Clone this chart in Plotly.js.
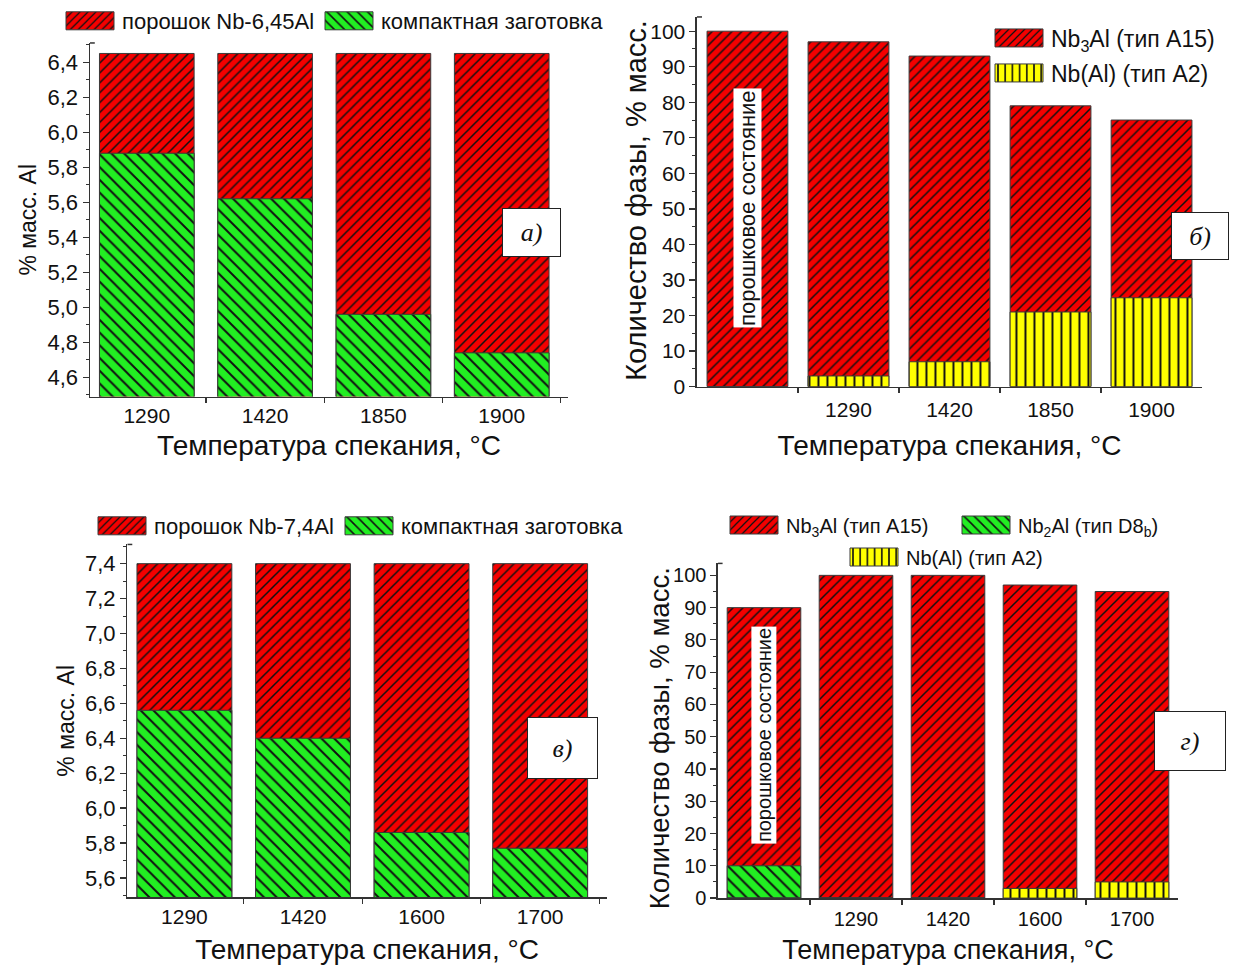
<!DOCTYPE html>
<html>
<head>
<meta charset="utf-8">
<script src="https://cdn.plot.ly/plotly-3.0.1.min.js"></script>
<style>body{margin:0;background:#fff}</style>
</head>
<body>
<div id="chart" style="width:1245px;height:968px"></div>
<script>
// а) Nb-6,45Al: Al content of powder vs compact, % масс.
const tempsA = ['1290', '1420', '1850', '1900'];
const powderA = [6.45, 6.45, 6.45, 6.45];
const compactA = [5.88, 5.62, 4.96, 4.74];

// б) phase content, Nb-6,45Al (first bar: powder state)
const catsB = ['порошковое состояние', '1290', '1420', '1850', '1900'];
const nb3alB = [100, 97, 93, 79, 75];
const nbalB = [0, 3, 7, 21, 25];

// в) Nb-7,4Al: Al content of powder vs compact, % масс.
const tempsC = ['1290', '1420', '1600', '1700'];
const powderC = [7.4, 7.4, 7.4, 7.4];
const compactC = [6.56, 6.40, 5.86, 5.77];

// г) phase content, Nb-7,4Al (first bar: powder state)
const catsD = ['порошковое состояние', '1290', '1420', '1600', '1700'];
const nb3alD = [90, 100, 100, 97, 95];
const nb2alD = [10, 0, 0, 0, 0];
const nbalD = [0, 0, 0, 3, 5];

const FONT = 'Liberation Sans, Arial, sans-serif';
const INK = '#111';
const RED = '#f40000', GREEN = '#22ee22', YELLOW = '#ffff00';
const outline = {color: '#3a3a3a', width: 1};
const PHASE_TITLE = 'Количество фазы, % масс.';

function hatch(bg, shape, size) {
  return {color: bg, line: outline,
    pattern: {shape: shape, bgcolor: bg, fgcolor: INK, size: size, solidity: 0.22, fillmode: 'replace'}};
}
const redM = hatch(RED, '/', 7);
const greenM = hatch(GREEN, '\\', 9);
const yellowM = hatch(YELLOW, '|', 9);

const traces = [
  {type: 'bar', x: tempsA, y: powderA, name: 'порошок Nb-6,45Al', marker: redM, xaxis: 'x', yaxis: 'y', legend: 'legend'},
  {type: 'bar', x: tempsA, y: compactA, name: 'компактная заготовка', marker: greenM, xaxis: 'x', yaxis: 'y', legend: 'legend2'},

  {type: 'bar', x: catsB, y: nb3alB, name: 'Nb<sub>3</sub>Al (тип A15)', marker: redM, xaxis: 'x2', yaxis: 'y2', legend: 'legend3'},
  {type: 'bar', x: catsB, y: nbalB, name: 'Nb(Al) (тип A2)', marker: yellowM, xaxis: 'x2', yaxis: 'y2', legend: 'legend4'},

  {type: 'bar', x: tempsC, y: powderC, name: 'порошок Nb-7,4Al', marker: redM, xaxis: 'x3', yaxis: 'y3', legend: 'legend5'},
  {type: 'bar', x: tempsC, y: compactC, name: 'компактная заготовка', marker: greenM, xaxis: 'x3', yaxis: 'y3', legend: 'legend6'},

  {type: 'bar', x: catsD, y: nb3alD, name: 'Nb<sub>3</sub>Al (тип A15)', marker: redM, xaxis: 'x4', yaxis: 'y4', legend: 'legend7'},
  {type: 'bar', x: catsD, y: nb2alD, name: 'Nb<sub>2</sub>Al (тип D8<sub>b</sub>)', marker: greenM, xaxis: 'x4', yaxis: 'y4', legend: 'legend8'},
  {type: 'bar', x: catsD, y: nbalD, name: 'Nb(Al) (тип A2)', marker: yellowM, xaxis: 'x4', yaxis: 'y4', legend: 'legend9'}
];
traces.forEach(t => { t.hoverinfo = 'skip'; });

const axisLine = {showline: true, linecolor: '#333', linewidth: 1.5, showgrid: false, zeroline: false,
  ticks: 'outside', tickcolor: '#333', tickwidth: 1.2, mirror: false};

function xAxis(domain, anchor, range, labels, fs, tfs, labelGap, standoff) {
  return Object.assign({}, axisLine, {
    type: 'category', domain: domain, anchor: anchor, range: range,
    tickson: 'boundaries', ticklen: 5, ticklabelstandoff: labelGap,
    tickmode: 'array', tickvals: labels, ticktext: labels,
    tickfont: {family: FONT, size: fs, color: INK},
    title: {text: 'Температура спекания, °C', font: {family: FONT, size: tfs, color: INK}, standoff: standoff}
  });
}
function yAxis(domain, anchor, range, dtick, minor, fmt, title, fs, tfs, standoff) {
  const ax = Object.assign({}, axisLine, {
    domain: domain, anchor: anchor, range: range, dtick: dtick, tick0: 0, ticklen: 6,
    tickformat: fmt,
    minor: {dtick: minor, ticks: 'outside', ticklen: 3, tickcolor: '#333', tickwidth: 1},
    tickfont: {family: FONT, size: fs, color: INK}
  });
  if (title) ax.title = {text: title, font: {family: FONT, size: tfs, color: INK}, standoff: standoff};
  return ax;
}

// short stroke closing the top end of each y axis
function topCap(xr, yr, len) {
  return {type: 'line', xref: xr + ' domain', yref: yr + ' domain', x0: 0, x1: len, y0: 1, y1: 1,
    line: {color: '#333', width: 1.5}};
}

function letterBox(text, x, y, w, h, fs) {
  return {text: '<i>' + text + '</i>', xref: 'paper', yref: 'paper', x: x, y: y,
    xanchor: 'center', yanchor: 'middle',
    showarrow: false, width: w, height: h, bgcolor: '#fff', bordercolor: '#222', borderwidth: 1,
    font: {family: 'Liberation Serif, Times New Roman, serif', size: fs, color: INK}};
}
function stateLabel(xr, yr, cat, yv, fs) {
  return {text: cat, xref: xr, yref: yr, x: cat, y: yv, showarrow: false, textangle: -90,
    xanchor: 'center', yanchor: 'middle',
    bgcolor: '#fff', borderpad: 1, font: {family: FONT, size: fs, color: INK}};
}
// vertical title of the phase-content panels, centred at pixel (px, py)
function sideTitle(text, px, py, fs) {
  return {text: text, xref: 'paper', yref: 'paper', x: px / 1245, y: 1 - py / 968,
    xanchor: 'center', yanchor: 'middle', showarrow: false, textangle: -90,
    font: {family: FONT, size: fs, color: INK}};
}

// one legend per entry; px = left edge of the entry text, py = its centre line
function legendAt(px, py, fs) {
  return {bgcolor: 'rgba(0,0,0,0)', xanchor: 'left', yanchor: 'middle', orientation: 'v',
    itemwidth: 60, x: (px - 71) / 1245, y: 1 - py / 968,
    font: {family: FONT, size: fs, color: INK}};
}

const layout = {
  width: 1245, height: 968,
  margin: {l: 0, r: 0, t: 0, b: 0},
  paper_bgcolor: '#fff', plot_bgcolor: '#fff',
  separators: ', ',
  barmode: 'overlay', bargap: 0.2,
  font: {family: FONT, color: INK},
  showlegend: true,

  xaxis: xAxis([0.0723, 0.4562], 'y', [-0.48, 3.56], tempsA, 21, 28, 0, 9),
  yaxis: yAxis([0.5909, 0.9566], 'x', [4.49, 6.51], 0.2, 0.1, '.1f', '% масс. Al', 22, 23, 4),
  xaxis2: xAxis([0.5598, 0.9655], 'y2', [-0.5, 4.5], catsB.slice(1), 21, 28, 4, 15),
  yaxis2: yAxis([0.6012, 0.9835], 'x2', [0, 104], 10, 5, 'd', null, 21),
  xaxis3: xAxis([0.1024, 0.4872], 'y3', [-0.48, 3.56], tempsC, 21, 28, 0, 12),
  yaxis3: yAxis([0.0733, 0.438], 'x3', [5.49, 7.51], 0.2, 0.1, '.1f', '% масс. Al', 22, 23, 4),
  xaxis4: xAxis([0.5767, 0.9462], 'y4', [-0.5, 4.5], catsD.slice(1), 20, 27, 2, 11),
  yaxis4: yAxis([0.0723, 0.4184], 'x4', [0, 103.7], 10, 5, 'd', null, 20),

  legend: legendAt(123, 20, 22),
  legend2: legendAt(382, 20, 22),
  legend3: legendAt(1052, 38, 23),
  legend4: legendAt(1052, 73, 23),
  legend5: legendAt(155, 526, 22),
  legend6: legendAt(402, 526, 22),
  legend7: legendAt(787, 525, 20),
  legend8: legendAt(1019, 525, 20),
  legend9: legendAt(907, 557, 20),

  shapes: [topCap('x', 'y', 0.01), topCap('x2', 'y2', 0.01), topCap('x3', 'y3', 0.01), topCap('x4', 'y4', 0.01)],
  annotations: [
    letterBox('а)', 531.5 / 1245, 1 - 231.5 / 968, 55, 45, 26),
    letterBox('б)', 1200 / 1245, 1 - 235 / 968, 54, 44, 26),
    letterBox('в)', 562.5 / 1245, 1 - 748 / 968, 67, 58, 26),
    letterBox('г)', 1190 / 1245, 1 - 741 / 968, 68, 56, 26),
    stateLabel('x2', 'y2', catsB[0], 50.4, 22),
    stateLabel('x4', 'y4', catsD[0], 50.5, 20),
    sideTitle(PHASE_TITLE, 636, 200, 29),
    sideTitle(PHASE_TITLE, 659, 738, 27.5)
  ]
};

// widen legend swatches into 48x18 hatched blocks ending 8px before the entry text
function widenSwatches(gd) {
  gd.querySelectorAll('g.traces').forEach(item => {
    const text = item.querySelector('text');
    if (!text) return;
    const tb = text.getBoundingClientRect();
    item.querySelectorAll('.legendpoints path').forEach(sw => {
      const pb = sw.getBoundingClientRect();
      const lb = sw.getBBox();
      const dx = lb.x - pb.left;
      const x0 = tb.left - 56 + dx, x1 = tb.left - 8 + dx;
      const cy = lb.y + lb.height / 2;
      sw.setAttribute('d', 'M' + x1 + ',' + (cy + 9) + 'H' + x0 + 'V' + (cy - 9) + 'H' + x1 + 'Z');
    });
  });
}

Plotly.newPlot('chart', traces, layout, {displayModeBar: false, staticPlot: true}).then(widenSwatches);
</script>
</body>
</html>
